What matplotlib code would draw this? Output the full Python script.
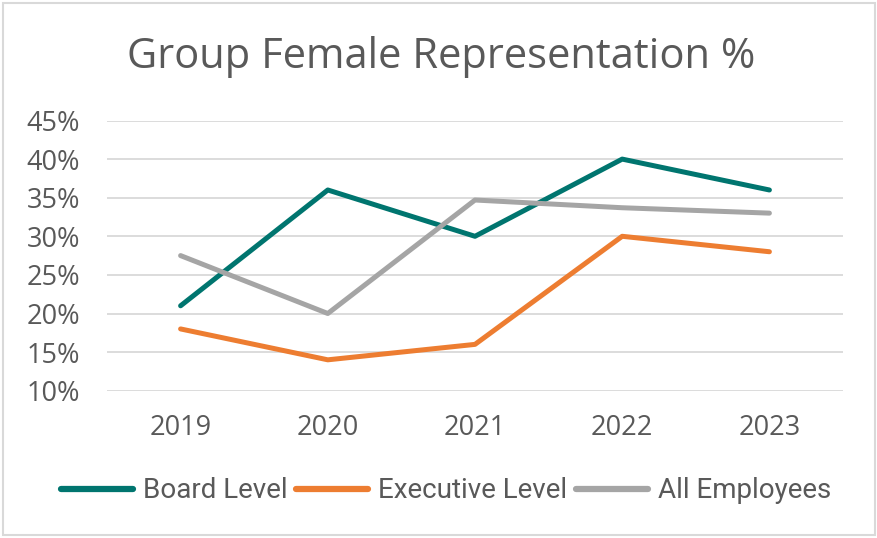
import matplotlib
matplotlib.use("Agg")
import matplotlib.pyplot as plt
from matplotlib.patches import Rectangle
from matplotlib.ticker import FuncFormatter

years = ["2019", "2020", "2021", "2022", "2023"]
board_level = [21, 36, 30, 40, 36]
executive_level = [18, 14, 16, 30, 28]
all_employees = [27.5, 20, 34.7, 33.7, 33]
series_names = ["Board Level", "Executive Level", "All Employees"]
series_colors = ["#00756F", "#ED7D31", "#A5A5A5"]
y_ticks = [10, 15, 20, 25, 30, 35, 40, 45]
title = "Group Female Representation %"

W, H = 878, 538
fig = plt.figure(figsize=(W / 100, H / 100), dpi=100)
fig.patch.set_facecolor("white")
fig.patches.append(Rectangle((3 / W, 3 / H), (W - 6) / W, (H - 6) / H,
                             transform=fig.transFigure, fill=False,
                             edgecolor="#D9D9D9", linewidth=1.5))

ax = fig.add_axes([107 / W, (H - 390.7) / H, (843 - 107) / W, (390.7 - 120.5) / H])
x = list(range(len(years)))
for vals, name, col in zip([board_level, executive_level, all_employees], series_names, series_colors):
    ax.plot(x, vals, color=col, lw=3.6, solid_capstyle="round", solid_joinstyle="round", label=name, zorder=3)

ax.set_xlim(-0.5, len(years) - 0.5)
ax.set_ylim(min(y_ticks), max(y_ticks))
ax.set_yticks(y_ticks)
ax.yaxis.set_major_formatter(FuncFormatter(lambda v, p: f"{int(v)}%"))
ax.set_xticks(x)
ax.set_xticklabels(years)
ax.grid(axis="y", color="#D9D9D9", lw=1.3, zorder=0)
for s in ["top", "right", "left", "bottom"]:
    ax.spines[s].set_visible(False)
ax.tick_params(axis="both", length=0, labelcolor="#595959", labelsize=19.5)
ax.tick_params(axis="y", pad=19.5)
ax.tick_params(axis="x", pad=17)
for lab in ax.get_xticklabels() + ax.get_yticklabels():
    lab.set_fontfamily(["Open Sans", "DejaVu Sans"])

fig.text(0.503, (H - 57) / H, title, ha="center", va="center", fontsize=30,
         color="#595959", family=["Open Sans", "DejaVu Sans"])

leg = fig.legend(loc="center", bbox_to_anchor=(0.508, (H - 491) / H), ncol=3, frameon=False,
                 prop={"family": ["Liberation Sans Narrow", "Roboto"], "size": 20},
                 handlelength=2.6, handletextpad=0.35, columnspacing=0.3)
for t in leg.get_texts():
    t.set_color("#595959")
for l in leg.get_lines():
    l.set_linewidth(4.5)

fig.savefig("out.png", dpi=100, facecolor="white")
